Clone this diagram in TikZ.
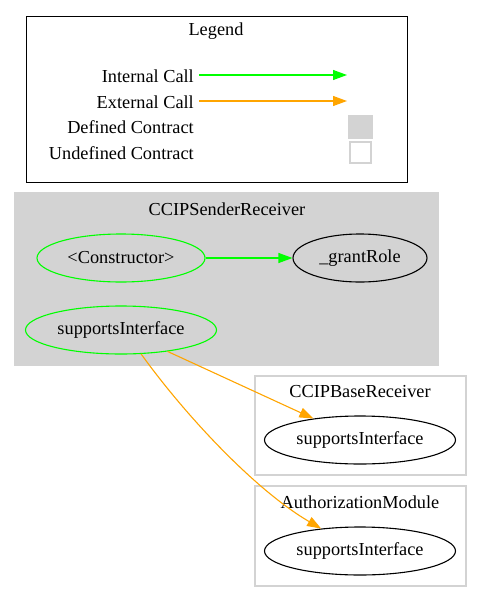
\documentclass[tikz,border=0pt]{standalone}
\usepackage{fontspec}
\setmainfont{Liberation Serif}
\usetikzlibrary{shapes.geometric,arrows.meta}
\definecolor{gvgreen}{HTML}{00FF00}
\definecolor{gvorange}{HTML}{FFA500}
\definecolor{gvgray}{HTML}{D3D3D3}
\tikzset{
  every node/.style={font=\fontsize{18.3}{21}\selectfont, inner sep=0pt},
  fn/.style={ellipse, draw=black, line width=1.1pt, minimum height=48pt},
  fngreen/.style={fn, draw=gvgreen},
  cluster/.style={draw=gvgray, line width=1.1pt},
  internal/.style={line width=1.1pt, draw=gvgreen, -{Triangle[length=14pt,width=10pt,fill=gvgreen]}},
  external/.style={line width=1.1pt, draw=gvorange, -{Triangle[length=14pt,width=10pt,fill=gvorange]}},
  lbl/.style={anchor=east},
  ttl/.style={yshift=-1.5pt},
}
\begin{document}
\begin{tikzpicture}[x=1pt,y=-1pt]
\useasboundingbox[fill=white] (0,0) rectangle (483,603);
% Legend
\draw[line width=1pt] (26,16) rectangle (407,182);
\node[ttl] (legtitle) at (216,30) {Legend};
\node[lbl,ttl] (lint) at (194,75) {Internal Call};
\node[lbl,ttl] (lext) at (194,101) {External Call};
\node[lbl,ttl] (ldef) at (194,126) {Defined Contract};
\node[lbl,ttl] (lund) at (194,152) {Undefined Contract};
\coordinate (ia) at (199,75);
\coordinate (ib) at (347,75);
\coordinate (ea) at (199,101);
\coordinate (eb) at (347,101);
\draw[internal] (ia) -- (ib);
\draw[external] (ea) -- (eb);
\node[fill=gvgray, minimum width=25pt, minimum height=24pt] (defbox) at (360.5,127) {};
\node[draw=gvgray, line width=1.1pt, minimum width=21pt, minimum height=21pt] (undbox) at (360.5,152.5) {};
% CCIPSenderReceiver
\draw[cluster, fill=gvgray] (15,193) rectangle (438,365);
\node[ttl] (sendtitle) at (227,208) {CCIPSenderReceiver};
\node[fngreen, minimum width=168pt] (ctor) at (121,258) {<Constructor>};
\node[fn, minimum width=134pt] (grant) at (360,258) {\_grantRole};
\node[fngreen, minimum width=191pt] (ssi) at (121,330) {supportsInterface};
% CCIPBaseReceiver
\draw[cluster] (255,376) rectangle (466,475);
\node[ttl] (basetitle) at (360,390) {CCIPBaseReceiver};
\node[fn, minimum width=191pt] (bsi) at (360,440) {supportsInterface};
% AuthorizationModule
\draw[cluster] (255,486) rectangle (466,586);
\node[ttl] (authtitle) at (360,501) {AuthorizationModule};
\node[fn, minimum width=191pt] (asi) at (360,551) {supportsInterface};
% Edges
\draw[internal] (ctor) -- (grant);
\draw[external] (ssi) -- (bsi);
\draw[external] (ssi.-50) .. controls (185,415) and (255,490) .. (asi.150);
\end{tikzpicture}
\end{document}
